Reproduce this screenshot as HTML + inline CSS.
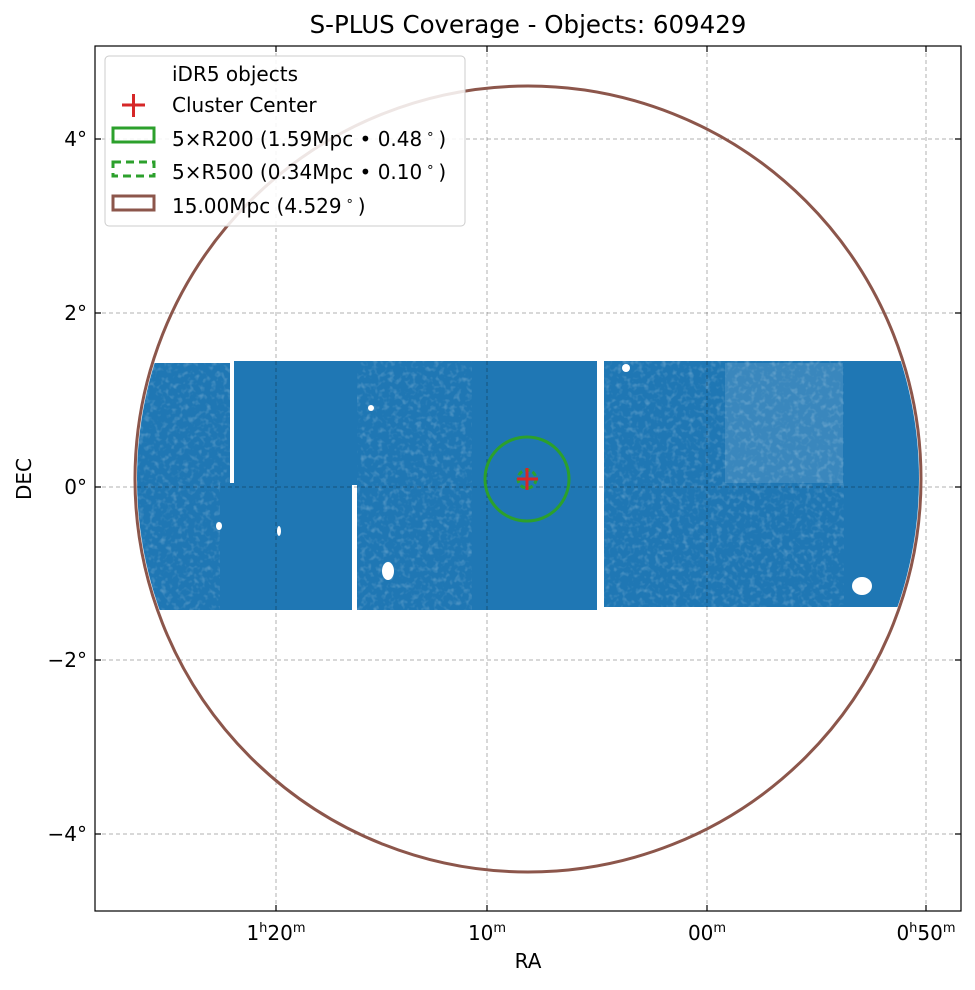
<!DOCTYPE html>
<html><head><meta charset="utf-8"><style>
body{margin:0;background:#fff;font-family:"DejaVu Sans","Liberation Sans",sans-serif}
</style></head><body>
<svg width="975" height="986" viewBox="0 0 975 986" xmlns="http://www.w3.org/2000/svg" font-family="DejaVu Sans, Liberation Sans, sans-serif">
<rect width="975" height="986" fill="#fff"/>
<defs>
<clipPath id="cc"><circle cx="528" cy="479" r="391"/></clipPath>
<filter id="tex" x="0" y="0" width="100%" height="100%">
<feTurbulence type="fractalNoise" baseFrequency="0.18" numOctaves="2" seed="3"/>
<feColorMatrix type="matrix" values="0 0 0 0 1  0 0 0 0 1  0 0 0 0 1  0 0 0 2.2 -1.1"/>
</filter>
</defs>
<g clip-path="url(#cc)">
<g fill="#1f77b4">
<rect x="120" y="363" width="110" height="120"/>
<rect x="120" y="483" width="232" height="127"/>
<rect x="234" y="361" width="363" height="124"/>
<rect x="357" y="483" width="240" height="127"/>
<rect x="604" y="361" width="330" height="246"/>
</g>
<g opacity="0.25">
<rect x="120" y="363" width="110" height="120" filter="url(#tex)"/>
<rect x="120" y="483" width="100" height="127" filter="url(#tex)"/>
<rect x="357" y="361" width="115" height="249" filter="url(#tex)"/>
<rect x="604" y="361" width="240" height="246" filter="url(#tex)"/>
</g>
<rect x="725" y="363" width="118" height="120" fill="#fff" opacity="0.12"/>
<g fill="#fff">
<ellipse cx="388" cy="571" rx="6" ry="9"/>
<ellipse cx="862" cy="586" rx="10" ry="9"/>
<ellipse cx="626" cy="368" rx="4" ry="4"/>
<ellipse cx="219" cy="526" rx="3" ry="4"/>
<ellipse cx="279" cy="531" rx="2" ry="5"/>
<ellipse cx="371" cy="408" rx="3" ry="3"/>
</g>
</g>
<g stroke="#000" stroke-opacity="0.3" stroke-width="1" stroke-dasharray="4,3">
<line x1="276" y1="46" x2="276" y2="911"/>
<line x1="487" y1="46" x2="487" y2="911"/>
<line x1="707" y1="46" x2="707" y2="911"/>
<line x1="926" y1="46" x2="926" y2="911"/>
<line x1="95" y1="139" x2="961" y2="139"/>
<line x1="95" y1="313" x2="961" y2="313"/>
<line x1="95" y1="487" x2="961" y2="487"/>
<line x1="95" y1="660" x2="961" y2="660"/>
<line x1="95" y1="834" x2="961" y2="834"/>
</g>
<circle cx="528" cy="479" r="393" fill="none" stroke="#8c564b" stroke-width="3"/>
<circle cx="527" cy="479" r="42" fill="none" stroke="#2ca02c" stroke-width="3"/>
<circle cx="527" cy="479" r="9" fill="none" stroke="#2ca02c" stroke-width="3" stroke-dasharray="5,3"/>
<path d="M517 479H538M527 468V490" stroke="#d62728" stroke-width="3"/>
<rect x="95" y="46" width="866" height="865" fill="none" stroke="#000" stroke-width="1.2"/>
<g stroke="#000" stroke-width="1.2">
<path d="M276 46v6M487 46v6M707 46v6M926 46v6M276 911v-6M487 911v-6M707 911v-6M926 911v-6"/>
<path d="M95 139h6M95 313h6M95 487h6M95 660h6M95 834h6M961 139h-6M961 313h-6M961 487h-6M961 660h-6M961 834h-6"/>
</g>
<g font-size="20" fill="#000">
<text x="87" y="146" text-anchor="end">4°</text>
<text x="87" y="320" text-anchor="end">2°</text>
<text x="87" y="494" text-anchor="end">0°</text>
<text x="87" y="667" text-anchor="end">−2°</text>
<text x="87" y="841" text-anchor="end">−4°</text>
<text x="276" y="940" text-anchor="middle">1<tspan font-size="13" dy="-8">h</tspan><tspan dy="8">20</tspan><tspan font-size="13" dy="-8">m</tspan></text>
<text x="487" y="940" text-anchor="middle">10<tspan font-size="13" dy="-8">m</tspan></text>
<text x="707" y="940" text-anchor="middle">00<tspan font-size="13" dy="-8">m</tspan></text>
<text x="926" y="940" text-anchor="middle">0<tspan font-size="13" dy="-8">h</tspan><tspan dy="8">50</tspan><tspan font-size="13" dy="-8">m</tspan></text>
<text x="528" y="968" text-anchor="middle">RA</text>
<text transform="translate(31,479) rotate(-90)" text-anchor="middle">DEC</text>
<text x="528" y="33" text-anchor="middle" font-size="24.5">S-PLUS Coverage - Objects: 609429</text>
</g>
<rect x="105" y="56" width="360" height="170" rx="4" fill="#fff" fill-opacity="0.85" stroke="#ccc" stroke-width="1"/>
<g font-size="20" fill="#000">
<text x="172" y="81">iDR5 objects</text>
<text x="172" y="112">Cluster Center</text>
<text x="172" y="146">5×R200 (1.59Mpc • 0.48<tspan dx="4" font-size="13" dy="-8">∘</tspan><tspan dx="4" dy="8">)</tspan></text>
<text x="172" y="179">5×R500 (0.34Mpc • 0.10<tspan dx="4" font-size="13" dy="-8">∘</tspan><tspan dx="4" dy="8">)</tspan></text>
<text x="172" y="213">15.00Mpc (4.529<tspan dx="4" font-size="13" dy="-8">∘</tspan><tspan dx="4" dy="8">)</tspan></text>
</g>
<path d="M122 105H145M133.5 94V117" stroke="#d62728" stroke-width="3"/>
<rect x="113" y="128" width="41" height="14" fill="none" stroke="#2ca02c" stroke-width="3"/>
<rect x="113" y="162" width="41" height="14" fill="none" stroke="#2ca02c" stroke-width="3" stroke-dasharray="8,5"/>
<rect x="113" y="196" width="41" height="14" fill="none" stroke="#8c564b" stroke-width="3"/>
</svg>
</body></html>
